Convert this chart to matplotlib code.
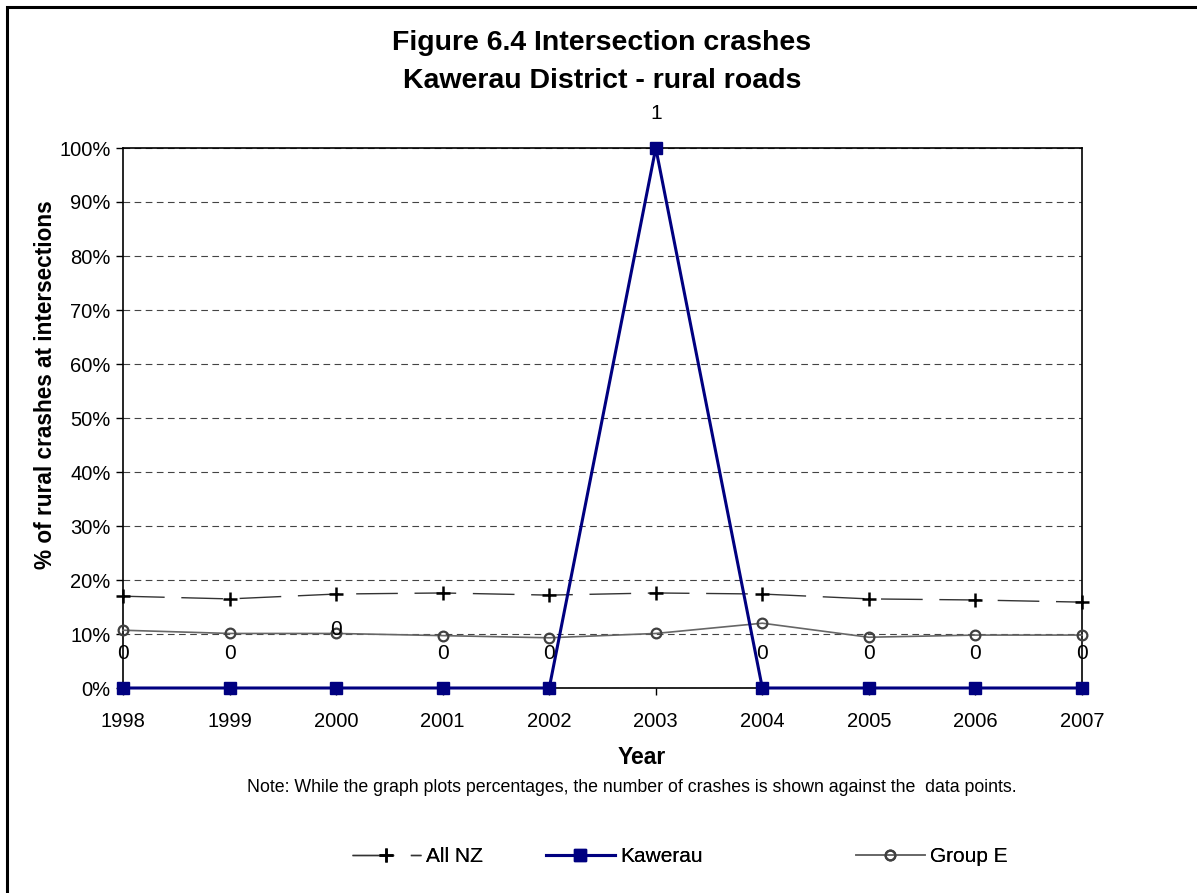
import matplotlib
matplotlib.use("Agg")
import matplotlib.pyplot as plt
from matplotlib.patches import Rectangle
from matplotlib.ticker import PercentFormatter

plt.rcParams['font.family'] = ['Liberation Sans', 'DejaVu Sans']

years = [1998, 1999, 2000, 2001, 2002, 2003, 2004, 2005, 2006, 2007]
all_nz = [17.0, 16.5, 17.4, 17.6, 17.2, 17.6, 17.4, 16.5, 16.3, 15.9]
kawerau = [0, 0, 0, 0, 0, 100, 0, 0, 0, 0]
group_e = [10.7, 10.1, 10.1, 9.7, 9.3, 10.1, 12.0, 9.4, 9.8, 9.8]
kawerau_counts = [0, 0, 0, 0, 0, 1, 0, 0, 0, 0]
yticks = [0, 10, 20, 30, 40, 50, 60, 70, 80, 90, 100]

# per-label vertical offsets (points) as placed in the original
label_offsets = [25, 25, 42, 25, 25, 25, 25, 25, 25, 25]

W, H = 1197, 893
fig = plt.figure(figsize=(W / 100, H / 100), dpi=100)
fig.patch.set_facecolor('white')

# outer frame
fig.add_artist(Rectangle((7 / W, -0.1), 1.2, 1 - 7 / H + 0.1, transform=fig.transFigure,
                         fill=False, edgecolor='black', linewidth=2.2))

ax = fig.add_axes([123 / W, 1 - 688 / H, (1082 - 123) / W, 540 / H])

h1, = ax.plot(years, all_nz, color='#333333', linewidth=1.0, dashes=(30, 12),
              marker='+', markersize=10, markeredgewidth=1.8, markeredgecolor='black',
              label='All NZ', zorder=3, clip_on=False)
h2, = ax.plot(years, kawerau, color='#000080', linewidth=2.2, marker='s', markersize=8,
              markerfacecolor='#000080', markeredgecolor='#000080', label='Kawerau',
              zorder=4, clip_on=False)
h3, = ax.plot(years, group_e, color='#666666', linewidth=1.2, marker='o', markersize=7,
              markerfacecolor='none', markeredgecolor='#404040', markeredgewidth=1.6,
              label='Group E', zorder=3, clip_on=False)

for x, y, c, off in zip(years, kawerau, kawerau_counts, label_offsets):
    ax.annotate(str(c), (x, y), xytext=(0, off), textcoords='offset points',
                ha='center', va='center', fontsize=15, color='black', zorder=5)

ax.set_xlim(years[0], years[-1])
ax.set_ylim(0, 100)
ax.set_xticks(years)
ax.set_yticks(yticks)
ax.yaxis.set_major_formatter(PercentFormatter(decimals=0))
ax.tick_params(axis='both', labelsize=14.5, length=5, color='black', width=1)
ax.tick_params(axis='x', pad=12)
ax.tick_params(axis='y', pad=4)
ax.grid(axis='y', linestyle=(0, (6, 4)), color='#444444', linewidth=0.8)
ax.set_axisbelow(True)
for s in ax.spines.values():
    s.set_color('black')
    s.set_linewidth(1.2)

fig.text(642 / W, 1 - 757 / H, 'Year', ha='center', va='center', fontsize=16.5, fontweight='bold')
fig.text(46 / W, 1 - 385 / H, '% of rural crashes at intersections', ha='center', va='center',
         rotation=90, fontsize=16.3, fontweight='bold')

fig.text(602 / W, 1 - 62 / H, 'Figure 6.4 Intersection crashes\nKawerau District - rural roads',
         ha='center', va='center', fontsize=20.5, fontweight='bold', linespacing=1.55)

fig.text(632 / W, 1 - 787 / H,
         'Note: While the graph plots percentages, the number of crashes is shown against the  data points.',
         ha='center', va='center', fontsize=12.8)

for h, x0 in zip([h1, h2, h3], [352, 546, 856]):
    leg = fig.legend(handles=[h], loc='center left', bbox_to_anchor=(x0 / W, 1 - 857 / H),
                     frameon=False, fontsize=15, handlelength=3.3, handletextpad=0.25,
                     borderpad=0, borderaxespad=0)
    fig.add_artist(leg)

fig.savefig('out.png', dpi=100, facecolor='white')
